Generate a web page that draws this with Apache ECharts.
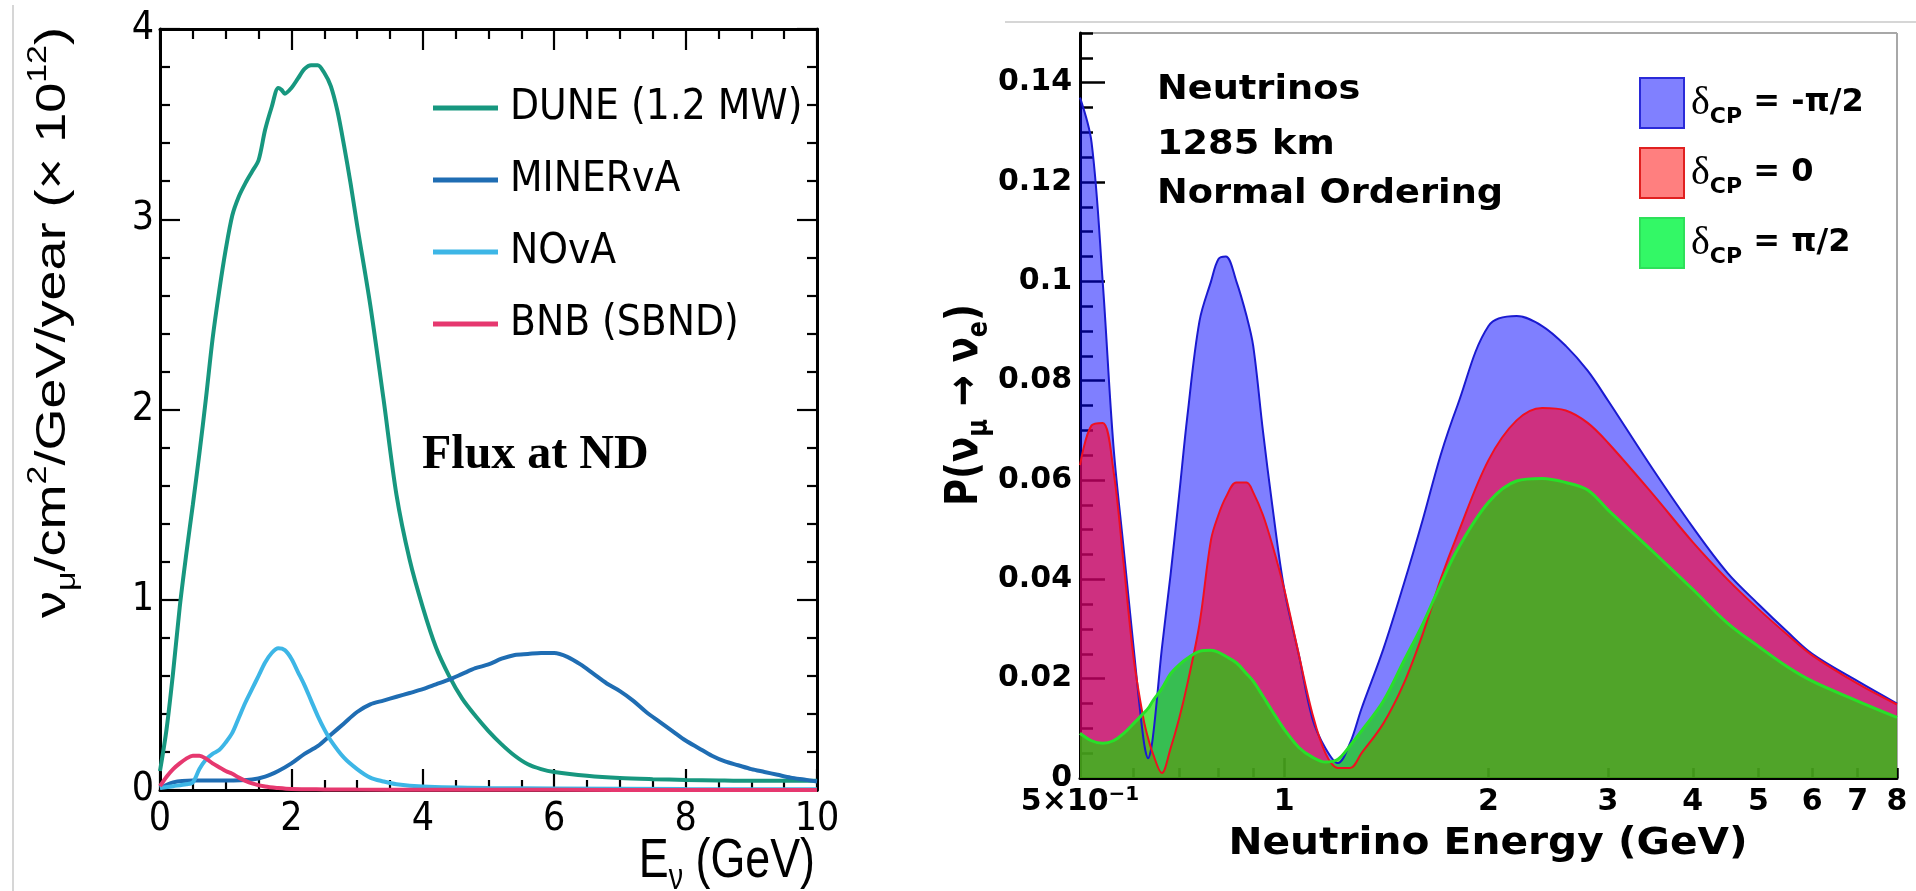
<!DOCTYPE html>
<html><head><meta charset="utf-8">
<script src="https://cdn.jsdelivr.net/npm/echarts@6/dist/echarts.min.js"></script>
<style>html,body{margin:0;padding:0;background:#fff}#c{width:1916px;height:891px}</style>
</head><body><div id="c"></div><script>
// ---------- Left panel: neutrino flux at ND ----------
const fluxSeriesNames = ['DUNE (1.2 MW)', 'MINERvA', 'NOvA', 'BNB (SBND)'];
const duneE = [0,0.1,0.2,0.3,0.4,0.5,0.6,0.7,0.8,0.9,1.0,1.1,1.2,1.3,1.4,1.5,1.6,1.7,1.8,1.85,1.9,2.0,2.1,2.2,2.3,2.4,2.5,2.6,2.7,2.8,2.9,3.0,3.2,3.4,3.6,3.8,4.0,4.2,4.4,4.6,4.8,5.0,5.2,5.4,5.6,5.8,6.0,6.5,7.0,7.5,8.0,8.5,9.0,9.5,10];
const duneFlux = [0.10,0.32,0.62,0.96,1.24,1.50,1.77,2.06,2.37,2.62,2.84,3.02,3.12,3.19,3.25,3.31,3.47,3.59,3.69,3.68,3.66,3.69,3.74,3.79,3.81,3.81,3.77,3.70,3.57,3.39,3.19,2.97,2.55,2.06,1.55,1.21,0.96,0.75,0.60,0.48,0.39,0.31,0.24,0.18,0.135,0.11,0.095,0.075,0.063,0.057,0.053,0.050,0.048,0.048,0.048];
const minervaE = [0,0.2,0.5,1.0,1.4,1.6,1.8,2.0,2.2,2.4,2.6,2.8,3.0,3.2,3.4,3.6,3.8,4.0,4.2,4.4,4.6,4.8,5.0,5.2,5.4,5.6,5.8,6.0,6.2,6.4,6.6,6.8,7.0,7.2,7.4,7.6,7.8,8.0,8.2,8.4,8.6,8.8,9.0,9.2,9.4,9.6,9.8,10];
const minervaFlux = [0.01,0.04,0.05,0.05,0.055,0.07,0.10,0.14,0.19,0.23,0.29,0.35,0.41,0.45,0.47,0.49,0.51,0.53,0.555,0.58,0.61,0.64,0.66,0.69,0.71,0.715,0.72,0.72,0.70,0.66,0.61,0.56,0.52,0.47,0.41,0.36,0.31,0.26,0.22,0.18,0.15,0.13,0.11,0.095,0.08,0.065,0.055,0.045];
const novaE = [0,0.2,0.4,0.5,0.6,0.7,0.8,0.9,1.0,1.1,1.2,1.3,1.4,1.5,1.6,1.7,1.8,1.9,2.0,2.1,2.2,2.3,2.4,2.5,2.6,2.8,3.0,3.2,3.4,3.6,4.0,5.0,6.0,8.0,10];
const novaFlux = [0.01,0.02,0.03,0.04,0.11,0.16,0.19,0.21,0.25,0.30,0.38,0.46,0.53,0.60,0.67,0.72,0.745,0.735,0.69,0.62,0.55,0.47,0.39,0.32,0.26,0.17,0.11,0.065,0.045,0.03,0.018,0.01,0.008,0.005,0.004];
const bnbE = [0,0.1,0.2,0.3,0.4,0.5,0.6,0.7,0.8,0.9,1.0,1.1,1.2,1.3,1.4,1.6,1.8,2.0,2.5,3.0,4.0,5.0,7.0,10];
const bnbFlux = [0.02,0.07,0.11,0.14,0.165,0.18,0.18,0.165,0.14,0.12,0.10,0.085,0.065,0.048,0.035,0.018,0.01,0.005,0.003,0.002,0.001,0.001,0.0005,0.0005];

// ---------- Right panel: appearance probability ----------
const cpLabels = ['-π/2', '0', 'π/2'];
const energyGeV = [0.50,0.52,0.54,0.56,0.58,0.60,0.62,0.63,0.64,0.66,0.68,0.70,0.72,0.75,0.78,0.80,0.82,0.85,0.88,0.90,0.93,0.96,1.00,1.05,1.10,1.15,1.20,1.25,1.30,1.40,1.50,1.60,1.70,1.80,2.00,2.20,2.40,2.60,2.80,3.00,3.50,4.00,4.50,5.00,5.50,6.00,7.00,8.00];
const probMinusHalfPi = [0.137,0.128,0.100,0.067,0.046,0.026,0.008,0.004,0.008,0.026,0.041,0.057,0.073,0.092,0.100,0.1045,0.105,0.100,0.093,0.087,0.070,0.055,0.038,0.025,0.012,0.006,0.003,0.007,0.014,0.026,0.039,0.052,0.065,0.075,0.091,0.093,0.091,0.087,0.082,0.076,0.062,0.0505,0.0413,0.035,0.0296,0.025,0.0195,0.015];
const probZero = [0.063,0.071,0.0715,0.062,0.043,0.024,0.012,0.008,0.005,0.001,0.006,0.012,0.019,0.031,0.048,0.053,0.0565,0.0595,0.0595,0.0575,0.053,0.047,0.038,0.025,0.013,0.005,0.002,0.002,0.005,0.011,0.019,0.029,0.040,0.049,0.064,0.072,0.0745,0.074,0.0715,0.0675,0.057,0.0475,0.040,0.034,0.029,0.0247,0.019,0.0148];
const probPlusHalfPi = [0.009,0.0075,0.007,0.0075,0.009,0.011,0.013,0.014,0.0155,0.018,0.021,0.0228,0.0241,0.0255,0.0257,0.0253,0.0245,0.0232,0.021,0.0195,0.0165,0.0135,0.0098,0.0062,0.0042,0.0032,0.0038,0.0065,0.0095,0.0155,0.0235,0.031,0.039,0.046,0.0555,0.0598,0.0603,0.0595,0.058,0.054,0.0455,0.038,0.0312,0.0265,0.0225,0.0195,0.0155,0.0122];
const probTickValues = [0,0.02,0.04,0.06,0.08,0.10,0.12,0.14];
const logLabelValues = [0.5,1,2,3,4,5,6,7,8];
const logMajorTicks = [1];
const logMinorTicks = [0.6,0.7,0.8,0.9,2,3,4,5,6,7,8];

const zip = (xs, ys) => xs.map((x, i) => [x, ys[i]]);
const NARROW = "'Liberation Sans Narrow','Arial Narrow','DejaVu Sans Condensed','Liberation Sans',sans-serif";
const SANS = "'Liberation Sans',Arial,sans-serif";
const BOLD = "'DejaVu Sans',sans-serif";
const BLACK = '#000';

const leftColors = ['#17977f', '#1f6db3', '#3db6e6', '#e6386f'];
const leftData = [zip(duneE, duneFlux), zip(minervaE, minervaFlux), zip(novaE, novaFlux), zip(bnbE, bnbFlux)];

const chart = echarts.init(document.getElementById('c'), null, {renderer: 'canvas', width: 1916, height: 891});

function leftX(pos, labels) {
  return {
    gridIndex: 0, type: 'value', min: 0, max: 10, interval: 2, position: pos,
    axisLine: {show: true, onZero: false, lineStyle: {color: BLACK, width: 3}},
    axisTick: {show: true, inside: true, length: 21, lineStyle: {color: BLACK, width: 2.2}},
    minorTick: {show: true, splitNumber: 4, length: 10, lineStyle: {color: BLACK, width: 2.2}},
    axisLabel: {show: labels, margin: 10, color: BLACK, fontSize: 39, fontFamily: NARROW},
    splitLine: {show: false}, minorSplitLine: {show: false}
  };
}
function leftY(pos, labels) {
  return {
    gridIndex: 0, type: 'value', min: 0, max: 4, interval: 1, position: pos,
    axisLine: {show: true, onZero: false, lineStyle: {color: BLACK, width: 3}},
    axisTick: {show: true, inside: true, length: 20, lineStyle: {color: BLACK, width: 2.2}},
    minorTick: {show: true, splitNumber: 5, length: 10, lineStyle: {color: BLACK, width: 2.2}},
    axisLabel: {show: labels, margin: 6, color: BLACK, fontSize: 39, fontFamily: NARROW},
    splitLine: {show: false}, minorSplitLine: {show: false}
  };
}

const option = {
  animation: false,
  backgroundColor: '#fff',
  grid: [
    {left: 160, top: 29, width: 657, height: 761},
    {left: 1080, top: 33, width: 817, height: 745}
  ],
  xAxis: [
    leftX('bottom', true),
    leftX('top', false),
    {
      gridIndex: 1, type: 'log', logBase: 10, min: 0.5, max: 8, position: 'bottom',
      axisLine: {show: true, onZero: false, lineStyle: {color: BLACK, width: 3}},
      axisTick: {show: true, inside: true, length: 20, customValues: logMajorTicks, lineStyle: {color: BLACK, width: 2.5}},
      axisLabel: {
        show: true, customValues: logLabelValues, margin: 7, color: BLACK,
        fontSize: 30, fontWeight: 'bold', fontFamily: BOLD,
        formatter: v => Math.abs(v - 0.5) < 1e-6 ? '{m|5×10}{sp|−1}' : '{m|' + Math.round(v) + '}',
        rich: {
          m: {fontSize: 30, fontWeight: 'bold', fontFamily: BOLD, color: BLACK, lineHeight: 34},
          sp: {fontSize: 20, fontWeight: 'bold', fontFamily: BOLD, color: BLACK, lineHeight: 34, verticalAlign: 'top'}
        }
      },
      splitLine: {show: false}, minorTick: {show: false}
    },
    {
      gridIndex: 1, type: 'log', logBase: 10, min: 0.5, max: 8, position: 'bottom',
      axisLine: {show: false, onZero: false},
      axisTick: {show: true, inside: true, length: 10, customValues: logMinorTicks, lineStyle: {color: BLACK, width: 2.5}},
      axisLabel: {show: false}, splitLine: {show: false}
    }
  ],
  yAxis: [
    leftY('left', true),
    leftY('right', false),
    {
      gridIndex: 1, type: 'value', min: 0, max: 0.15, position: 'left',
      axisLine: {show: true, onZero: false, lineStyle: {color: BLACK, width: 3}},
      axisTick: {show: true, inside: true, length: 25, customValues: probTickValues, lineStyle: {color: BLACK, width: 2.5}},
      axisLabel: {
        show: true, customValues: probTickValues, margin: 8, color: BLACK,
        fontSize: 30, fontWeight: 'bold', fontFamily: BOLD,
        formatter: v => v === 0 ? '0' : String(parseFloat(v.toFixed(3)))
      },
      splitLine: {show: false}
    },
    {
      gridIndex: 1, type: 'value', min: 0, max: 0.15, interval: 0.005, position: 'left',
      axisLine: {show: false, onZero: false},
      axisTick: {show: true, inside: true, length: 13, lineStyle: {color: BLACK, width: 2.5}},
      axisLabel: {show: false}, splitLine: {show: false}
    }
  ],
  legend: [
    {
      orient: 'vertical', left: 428, top: 78, itemWidth: 65, itemHeight: 5, itemGap: 22,
      icon: 'rect', selectedMode: false,
      data: fluxSeriesNames.map((n, i) => ({name: n, itemStyle: {color: leftColors[i], borderWidth: 0}})),
      textStyle: {fontSize: 42, fontFamily: NARROW, color: BLACK, lineHeight: 50, padding: [0, 0, 0, 7]}
    },
    {
      orient: 'vertical', left: 1634, top: 72, itemWidth: 44, itemHeight: 50, itemGap: 18,
      icon: 'rect', selectedMode: false,
      data: [
        {name: 'δCP = ' + cpLabels[0], itemStyle: {color: '#8080ff', borderColor: '#2a2ad8', borderWidth: 2}},
        {name: 'δCP = ' + cpLabels[1], itemStyle: {color: '#ff7f7f', borderColor: '#e02020', borderWidth: 2}},
        {name: 'δCP = ' + cpLabels[2], itemStyle: {color: '#33f866', borderColor: '#2ee05a', borderWidth: 2}}
      ],
      formatter: name => '{d|δ}{s|CP}{t| = ' + name.split(' = ')[1] + '}',
      textStyle: {
        padding: [0, 0, 0, 2],
        rich: {
          d: {fontFamily: "'Liberation Serif',serif", fontSize: 40, color: BLACK, lineHeight: 50},
          s: {fontFamily: BOLD, fontWeight: 'bold', fontSize: 22, color: BLACK, lineHeight: 50, verticalAlign: 'bottom'},
          t: {fontFamily: BOLD, fontWeight: 'bold', fontSize: 32, color: BLACK, lineHeight: 50}
        }
      }
    }
  ],
  series: [
    ...fluxSeriesNames.map((n, i) => ({
      name: n, type: 'line', xAxisIndex: 0, yAxisIndex: 0, data: leftData[i],
      showSymbol: false, smooth: 0.3, color: leftColors[i],
      lineStyle: {color: leftColors[i], width: 4}, itemStyle: {color: leftColors[i]}
    })),
    {
      name: 'δCP = ' + cpLabels[0], type: 'line', xAxisIndex: 2, yAxisIndex: 2,
      data: zip(energyGeV, probMinusHalfPi), showSymbol: false, smooth: 0.35,
      lineStyle: {color: '#1a1ad0', width: 2}, itemStyle: {color: '#8080ff'},
      areaStyle: {color: 'rgb(0,0,255)', opacity: 0.5}
    },
    {
      name: 'δCP = ' + cpLabels[1], type: 'line', xAxisIndex: 2, yAxisIndex: 2,
      data: zip(energyGeV, probZero), showSymbol: false, smooth: 0.35,
      lineStyle: {color: '#f01020', width: 2}, itemStyle: {color: '#ff7f7f'},
      areaStyle: {color: 'rgb(255,0,50)', opacity: 0.62}
    },
    {
      name: 'δCP = ' + cpLabels[2], type: 'line', xAxisIndex: 2, yAxisIndex: 2,
      data: zip(energyGeV, probPlusHalfPi), showSymbol: false, smooth: 0.35,
      lineStyle: {color: '#28e028', width: 3}, itemStyle: {color: '#33f866'},
      areaStyle: {color: 'rgb(20,220,0)', opacity: 0.68}
    }
  ],
  graphic: [
    {type: 'line', silent: true, shape: {x1: 13, y1: 5, x2: 13, y2: 891}, style: {stroke: '#c8c8c8', lineWidth: 1.5}},
    {type: 'line', silent: true, shape: {x1: 1005, y1: 22, x2: 1916, y2: 22}, style: {stroke: '#c8c8c8', lineWidth: 1.5}},
    {type: 'line', silent: true, shape: {x1: 1080, y1: 33, x2: 1897, y2: 33}, style: {stroke: '#a8a8a8', lineWidth: 2}},
    {type: 'line', silent: true, shape: {x1: 1897, y1: 33, x2: 1897, y2: 778}, style: {stroke: '#a8a8a8', lineWidth: 2}},
    // left y title
    {
      type: 'text', x: 53, y: 27, rotation: Math.PI / 2, scaleY: 0.8, silent: true,
      style: {
        text: '{n|ν}{sub|μ}{n|/cm}{sup|2}{n|/GeV/year (× 10}{sup|12}{n|)}',
        align: 'right', verticalAlign: 'middle', textAlign: 'right', textVerticalAlign: 'middle', fill: BLACK,
        rich: {
          n: {fontSize: 54, fontFamily: SANS, fill: BLACK, lineHeight: 70},
          sub: {fontSize: 34, fontFamily: SANS, fill: BLACK, lineHeight: 70, verticalAlign: 'bottom'},
          sup: {fontSize: 34, fontFamily: SANS, fill: BLACK, lineHeight: 70, verticalAlign: 'top'}
        }
      }
    },
    // left x title
    {
      type: 'text', x: 815, y: 862, scaleX: 0.8, silent: true,
      style: {
        text: '{n|E}{sub|ν}{n| (GeV)}',
        align: 'right', verticalAlign: 'middle', textAlign: 'right', textVerticalAlign: 'middle', fill: BLACK,
        rich: {
          n: {fontSize: 56, fontFamily: SANS, fill: BLACK, lineHeight: 70},
          sub: {fontSize: 36, fontFamily: SANS, fill: BLACK, lineHeight: 70, verticalAlign: 'bottom'}
        }
      }
    },
    {
      type: 'text', x: 422, y: 456, silent: true,
      style: {text: 'Flux at ND', fontSize: 48, fontWeight: 'bold', fontFamily: "'Liberation Serif','Times New Roman',serif",
        fill: BLACK, align: 'left', verticalAlign: 'middle', textAlign: 'left', textVerticalAlign: 'middle'}
    },
    // right annotations
    {
      type: 'text', x: 1157, y: 90, scaleX: 1.08, silent: true,
      style: {text: 'Neutrinos', fontSize: 34, fontWeight: 'bold', fontFamily: BOLD, fill: BLACK,
        align: 'left', verticalAlign: 'middle', textAlign: 'left', textVerticalAlign: 'middle'}
    },
    {
      type: 'text', x: 1157, y: 145, scaleX: 1.08, silent: true,
      style: {text: '1285 km', fontSize: 34, fontWeight: 'bold', fontFamily: BOLD, fill: BLACK,
        align: 'left', verticalAlign: 'middle', textAlign: 'left', textVerticalAlign: 'middle'}
    },
    {
      type: 'text', x: 1157, y: 194, scaleX: 1.08, silent: true,
      style: {text: 'Normal Ordering', fontSize: 34, fontWeight: 'bold', fontFamily: BOLD, fill: BLACK,
        align: 'left', verticalAlign: 'middle', textAlign: 'left', textVerticalAlign: 'middle'}
    },
    // right x title
    {
      type: 'text', x: 1488, y: 844, scaleX: 1.1, silent: true,
      style: {text: 'Neutrino Energy (GeV)', fontSize: 37, fontWeight: 'bold', fontFamily: BOLD, fill: BLACK,
        align: 'center', verticalAlign: 'middle', textAlign: 'center', textVerticalAlign: 'middle'}
    },
    // right y title
    {
      type: 'text', x: 965, y: 405, rotation: Math.PI / 2, scaleY: 1.2, silent: true,
      style: {
        text: '{n|P(ν}{sub|μ}{n| → ν}{sub|e}{n|)}',
        align: 'center', verticalAlign: 'middle', textAlign: 'center', textVerticalAlign: 'middle', fill: BLACK,
        rich: {
          n: {fontSize: 37, fontWeight: 'bold', fontFamily: BOLD, fill: BLACK, lineHeight: 48},
          sub: {fontSize: 24, fontWeight: 'bold', fontFamily: BOLD, fill: BLACK, lineHeight: 48, verticalAlign: 'bottom'}
        }
      }
    }
  ]
};
chart.setOption(option);
</script></body></html>
